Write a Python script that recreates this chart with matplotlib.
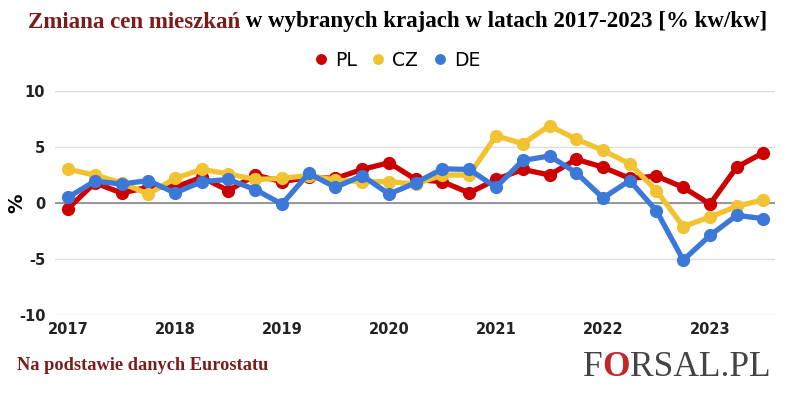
import matplotlib
matplotlib.use("Agg")
import matplotlib.pyplot as plt
import numpy as np

years = ["2017", "2018", "2019", "2020", "2021", "2022", "2023"]
# quarterly data, 2017 Q1 .. 2023 Q3
pl = [-0.5, 1.8, 0.9, 1.4, 1.4, 2.3, 1.1, 2.5, 1.9, 2.3, 2.2, 3.0, 3.6,
      2.1, 1.9, 0.9, 2.1, 3.0, 2.5, 3.9, 3.2, 2.2, 2.4, 1.4, -0.1, 3.2, 4.5]
cz = [3.0, 2.5, 1.8, 0.8, 2.2, 3.0, 2.6, 2.1, 2.2, 2.45, 2.05, 1.9, 1.9,
      1.7, 2.5, 2.5, 6.0, 5.3, 6.9, 5.7, 4.7, 3.5, 1.1, -2.1, -1.25, -0.3, 0.3]
de = [0.5, 1.95, 1.7, 2.0, 0.9, 1.9, 2.1, 1.2, -0.1, 2.65, 1.4, 2.45, 0.8,
      1.8, 3.05, 3.0, 1.4, 3.8, 4.2, 2.7, 0.45, 2.0, -0.7, -5.1, -2.9, -1.1, -1.4]
names = ["PL", "CZ", "DE"]
colors = ["#cc0000", "#f1c232", "#3c78d8"]

x = np.arange(len(pl))

fig = plt.figure(figsize=(7.88, 3.94), dpi=100)
ax = fig.add_axes([55/788, 1-315/394, 720/788, 224/394])

for i, vals in enumerate([pl, cz, de]):
    ax.plot(x, vals, color=colors[i], lw=3.8, marker='o', markersize=8.5,
            solid_capstyle='round', label=names[i], zorder=3+i)

ax.set_xlim(-13/26.75, 26 + 11.5/26.75)
ax.set_ylim(-10, 10)
ax.set_yticks([-10, -5, 0, 5, 10])
ax.set_yticklabels(["-10", "-5", "0", "5", "10"])
ax.set_xticks(np.arange(0, 25, 4))
ax.set_xticklabels(years)
ax.grid(axis='y', color='#dddddd', lw=1)
ax.axhline(0, color='#888888', lw=1.2, zorder=2)
for s in ax.spines.values():
    s.set_visible(False)
ax.tick_params(length=0, labelsize=10.5, labelcolor='#222222')
ax.tick_params(axis='y', pad=7)
ax.tick_params(axis='x', pad=5)
for lab in ax.get_xticklabels() + ax.get_yticklabels():
    lab.set_fontweight('bold')
ax.set_ylabel("%", fontsize=14, fontweight='bold')
ax.yaxis.set_label_coords(-29/720, 0.5)

leg = fig.legend(loc='center', bbox_to_anchor=(0.505, 1-60/394), ncol=3, frameon=False,
                 fontsize=13.5, handlelength=0.5, handletextpad=0.5, columnspacing=0.9,
                 markerscale=0.8)
for h in leg.legend_handles:
    h.set_linestyle('none')

# title in two colours
t1 = fig.text(28/788, 1-22/394, "Zmiana cen mieszkań", family="Liberation Serif",
              fontweight='bold', fontsize=16.5, color="#7a1c1c", va='center', ha='left')
fig.canvas.draw()
ax.annotate(" w wybranych krajach w latach 2017-2023 [% kw/kw]", xy=(1, 0.5),
            xycoords=t1, va='center', ha='left', family="Liberation Serif",
            fontweight='bold', fontsize=16.5, color="black", annotation_clip=False)

fig.text(17/788, 1-365/394, "Na podstawie danych Eurostatu", family="Liberation Serif",
         fontweight='bold', fontsize=13.2, color="#7a1c1c", va='center', ha='left')

f1 = fig.text(583/788, 1-368/394, "F", family="Liberation Serif", fontsize=25.5,
              color="#444444", va='center', ha='left')
fig.canvas.draw()
f2 = ax.annotate("O", xy=(1, 0.5), xycoords=f1, va='center', ha='left',
                 family="Liberation Serif", fontsize=25.5, color="#c0272d",
                 fontweight='bold', annotation_clip=False)
fig.canvas.draw()
ax.annotate("RSAL.PL", xy=(1, 0.5), xycoords=f2, va='center', ha='left',
            family="Liberation Serif", fontsize=25.5, color="#444444",
            annotation_clip=False)

fig.savefig("out.png", dpi=100)
